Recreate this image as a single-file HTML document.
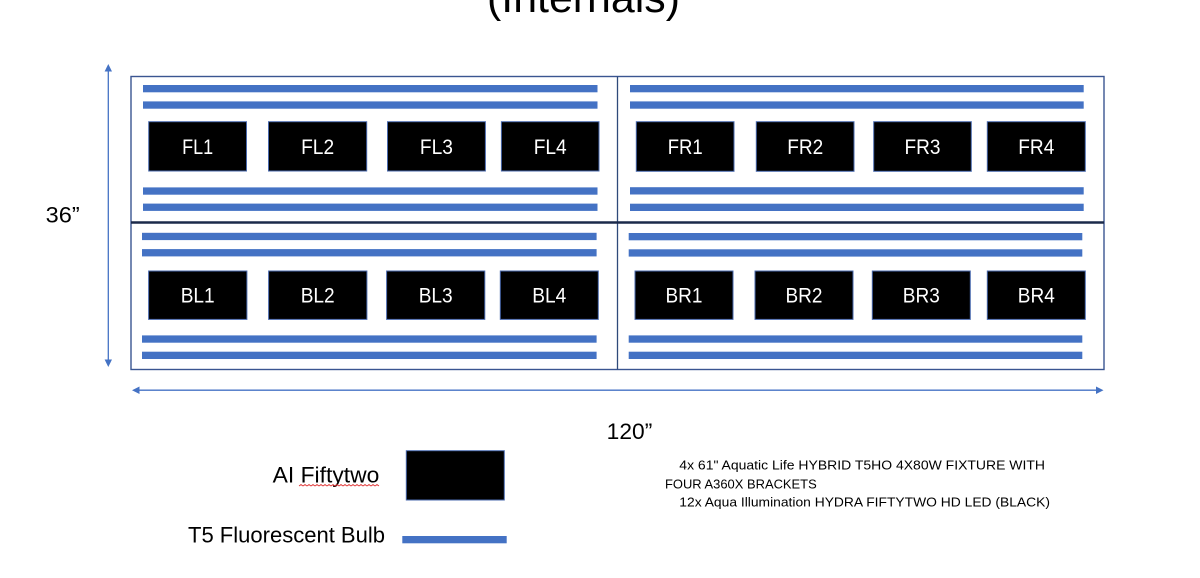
<!DOCTYPE html>
<html>
<head>
<meta charset="utf-8">
<style>
  html, body { margin:0; padding:0; background:#ffffff; }
  body { width:1200px; height:578px; overflow:hidden; }
  svg { display:block; }
  text { font-family: "Liberation Sans", Arial, sans-serif; }
</style>
</head>
<body>
<svg width="1200" height="578" viewBox="0 0 1200 578" xmlns="http://www.w3.org/2000/svg">
  <!-- Title (cut off at top) -->
  <text x="487" y="12" font-size="43" fill="#000" textLength="193" lengthAdjust="spacingAndGlyphs">(Internals)</text>

  <!-- Outer box -->
  <rect x="131" y="76.5" width="973" height="293" fill="#fff" stroke="#3A5591" stroke-width="1.4"/>
  <!-- Vertical divider -->
  <line x1="617.5" y1="76.5" x2="617.5" y2="369.5" stroke="#2F4A7A" stroke-width="1.3"/>
  <!-- Horizontal divider -->
  <line x1="131" y1="222.5" x2="1104" y2="222.5" stroke="#1B2A4A" stroke-width="2.6"/>

  <!-- Bars -->
  <g fill="#4472C4">
    <rect x="143" y="85" width="454.5" height="7.3"/>
    <rect x="143" y="101.4" width="454.5" height="7.3"/>
    <rect x="143" y="187.4" width="454.5" height="7.3"/>
    <rect x="143" y="203.6" width="454.5" height="7.3"/>

    <rect x="630" y="85" width="453.7" height="7.3"/>
    <rect x="630" y="101.4" width="453.7" height="7.3"/>
    <rect x="630" y="187.2" width="453.7" height="7.3"/>
    <rect x="630" y="203.7" width="453.7" height="7.3"/>

    <rect x="142" y="232.8" width="454.6" height="7.3"/>
    <rect x="142" y="249.1" width="454.6" height="7.3"/>
    <rect x="142" y="335.4" width="454.6" height="7.3"/>
    <rect x="142" y="351.7" width="454.6" height="7.3"/>

    <rect x="628.7" y="233" width="453.6" height="7.3"/>
    <rect x="628.7" y="249.3" width="453.6" height="7.3"/>
    <rect x="628.7" y="335.4" width="453.6" height="7.3"/>
    <rect x="628.7" y="351.7" width="453.6" height="7.3"/>
  </g>

  <!-- LED boxes -->
  <g fill="#000" stroke="#4A6AAE" stroke-width="1">
    <rect x="148.7" y="121.7" width="97.8" height="49.3"/>
    <rect x="268.5" y="121.7" width="98.2" height="49.3"/>
    <rect x="387.5" y="121.7" width="97.9" height="49.3"/>
    <rect x="501.4" y="121.7" width="97.6" height="49.3"/>

    <rect x="636.3" y="121.7" width="97.7" height="49.6"/>
    <rect x="756.3" y="121.7" width="97.7" height="49.6"/>
    <rect x="873.7" y="121.7" width="97.6" height="49.6"/>
    <rect x="987.3" y="121.7" width="98" height="49.6"/>

    <rect x="148.6" y="271" width="98.3" height="48.4"/>
    <rect x="268.6" y="271" width="98.3" height="48.4"/>
    <rect x="386.6" y="271" width="98.2" height="48.4"/>
    <rect x="500.3" y="271" width="98" height="48.4"/>

    <rect x="635" y="271" width="98" height="48.4"/>
    <rect x="755" y="271" width="98" height="48.4"/>
    <rect x="872.3" y="271" width="98" height="48.4"/>
    <rect x="987.3" y="271" width="98" height="48.4"/>
  </g>

  <!-- LED labels -->
  <g fill="#fff" font-size="21" text-anchor="middle">
    <text x="197.6" y="154" textLength="31" lengthAdjust="spacingAndGlyphs">FL1</text>
    <text x="317.6" y="154" textLength="33" lengthAdjust="spacingAndGlyphs">FL2</text>
    <text x="436.4" y="154" textLength="33" lengthAdjust="spacingAndGlyphs">FL3</text>
    <text x="550.2" y="154" textLength="33" lengthAdjust="spacingAndGlyphs">FL4</text>

    <text x="685.2" y="154" textLength="35" lengthAdjust="spacingAndGlyphs">FR1</text>
    <text x="805.2" y="154" textLength="36" lengthAdjust="spacingAndGlyphs">FR2</text>
    <text x="922.5" y="154" textLength="36" lengthAdjust="spacingAndGlyphs">FR3</text>
    <text x="1036.3" y="154" textLength="36" lengthAdjust="spacingAndGlyphs">FR4</text>

    <text x="197.7" y="302.5" textLength="34" lengthAdjust="spacingAndGlyphs">BL1</text>
    <text x="317.7" y="302.5" textLength="34" lengthAdjust="spacingAndGlyphs">BL2</text>
    <text x="435.7" y="302.5" textLength="34" lengthAdjust="spacingAndGlyphs">BL3</text>
    <text x="549.3" y="302.5" textLength="34" lengthAdjust="spacingAndGlyphs">BL4</text>

    <text x="684" y="302.5" textLength="37" lengthAdjust="spacingAndGlyphs">BR1</text>
    <text x="804" y="302.5" textLength="37" lengthAdjust="spacingAndGlyphs">BR2</text>
    <text x="921.3" y="302.5" textLength="37" lengthAdjust="spacingAndGlyphs">BR3</text>
    <text x="1036.3" y="302.5" textLength="37" lengthAdjust="spacingAndGlyphs">BR4</text>
  </g>

  <!-- Vertical dimension arrow -->
  <line x1="108.3" y1="70" x2="108.3" y2="361" stroke="#4472C4" stroke-width="1.3"/>
  <polygon points="108.3,64 104.6,71.5 112,71.5" fill="#4472C4"/>
  <polygon points="108.3,367 104.6,359.5 112,359.5" fill="#4472C4"/>

  <!-- Horizontal dimension arrow -->
  <line x1="138" y1="390.2" x2="1097" y2="390.2" stroke="#4472C4" stroke-width="1.3"/>
  <polygon points="132,390.2 139.5,386.5 139.5,394" fill="#4472C4"/>
  <polygon points="1103.5,390.2 1096,386.5 1096,394" fill="#4472C4"/>

  <!-- Dimension labels -->
  <text x="45.7" y="222.3" font-size="22.5" fill="#000" textLength="34" lengthAdjust="spacingAndGlyphs">36”</text>
  <text x="606.7" y="439" font-size="22.5" fill="#000" textLength="45.6" lengthAdjust="spacingAndGlyphs">120”</text>

  <!-- Legend -->
  <text x="272.7" y="482.7" font-size="22.5" fill="#000" textLength="106.6" lengthAdjust="spacingAndGlyphs">AI Fiftytwo</text>
  <polyline points="299,486 301,484.5 303,486 305,484.5 307,486 309,484.5 311,486 313,484.5 315,486 317,484.5 319,486 321,484.5 323,486 325,484.5 327,486 329,484.5 331,486 333,484.5 335,486 337,484.5 339,486 341,484.5 343,486 345,484.5 347,486 349,484.5 351,486 353,484.5 355,486 357,484.5 359,486 361,484.5 363,486 365,484.5 367,486 369,484.5 371,486 373,484.5 375,486 377,484.5 379,486" fill="none" stroke="#E03030" stroke-width="0.8"/>
  <rect x="406.3" y="450.7" width="98" height="49.3" fill="#000" stroke="#4A6AAE" stroke-width="1"/>

  <text x="188" y="542.7" font-size="22.5" fill="#000" textLength="197" lengthAdjust="spacingAndGlyphs">T5 Fluorescent Bulb</text>
  <rect x="402.3" y="536" width="104.4" height="7.3" fill="#4472C4"/>

  <!-- Notes -->
  <g font-size="12.5" fill="#000">
    <text x="679.3" y="469.3" textLength="365.7" lengthAdjust="spacingAndGlyphs">4x 61" Aquatic Life HYBRID T5HO 4X80W FIXTURE WITH</text>
    <text x="665" y="488.3" textLength="151.7" lengthAdjust="spacingAndGlyphs">FOUR A360X BRACKETS</text>
    <text x="679.3" y="506.7" textLength="370.7" lengthAdjust="spacingAndGlyphs">12x Aqua Illumination HYDRA FIFTYTWO HD LED (BLACK)</text>
  </g>
</svg>
</body>
</html>
